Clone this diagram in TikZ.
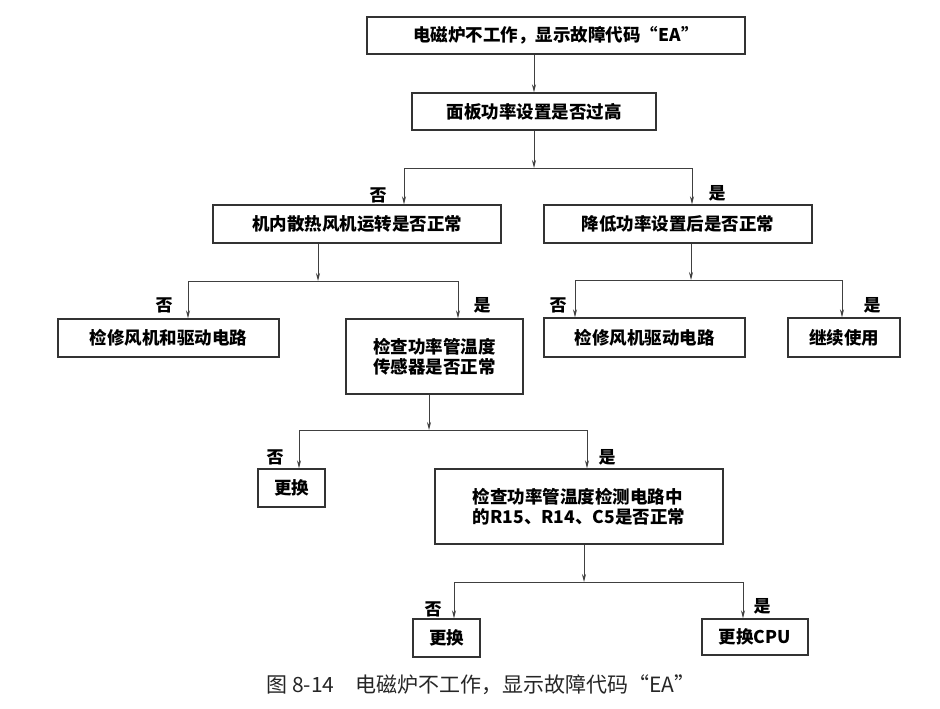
\documentclass[tikz,border=0pt]{standalone}
\usepackage{fontspec}
\setmainfont{Noto Sans CJK SC}
\usetikzlibrary{arrows.meta}
\begin{document}
\begin{tikzpicture}[x=1pt,y=-1pt,
    box/.style={draw=black!80,line width=1.4pt,minimum height=38pt,inner sep=0pt,
      font=\bfseries\fontsize{17.5}{20}\selectfont},
    arr/.style={-{Stealth[length=8pt,width=4pt]},black!75,line width=0.8pt},
    yesno/.style={font=\bfseries\fontsize{17}{20}\selectfont}]
  \useasboundingbox (0,0) rectangle (940,709);
  \node[box,minimum width=378pt,minimum height=37pt] (top) at (556,35.5) {电磁炉不工作，显示故障代码“EA”};
  \node[box,minimum width=244pt,minimum height=37pt] (panel) at (534,111.5) {面板功率设置是否过高};
  \node[box,minimum width=288pt] (fan) at (357,224) {机内散热风机运转是否正常};
  \node[box,minimum width=268pt] (lower) at (678,224) {降低功率设置后是否正常};
  \node[box,minimum width=221pt] (fixfan) at (168.5,338) {检修风机和驱动电路};
  \node[box,minimum width=177pt,minimum height=75pt,align=left] (sensor) at (434.5,356.5) {检查功率管温度\\传感器是否正常};
  \node[box,minimum width=201pt,minimum height=39pt] (fixdrive) at (644.5,337.5) {检修风机驱动电路};
  \node[box,minimum width=112pt,minimum height=39pt] (keep) at (844,337.5) {继续使用};
  \node[box,minimum width=67pt] (swapA) at (291.5,488) {更换};
  \node[box,minimum width=288pt,minimum height=75pt,align=left] (circuit) at (579,506.5) {检查功率管温度检测电路中\\的R15、R14、C5是否正常};
  \node[box,minimum width=67pt] (swapB) at (446.5,638) {更换};
  \node[box,minimum width=106pt,minimum height=36pt] (cpu) at (755,637) {更换CPU};
  % split points
  \coordinate (j1) at (534,168);
  \coordinate (j2) at (318,281);
  \coordinate (j3) at (691,280);
  \coordinate (j4) at (429,430);
  \coordinate (j5) at (584,582);
  \draw[arr] (panel.north |- top.south) -- (panel.north);
  \draw[arr] (panel.south) -- (j1);
  \draw[arr] (j1) -| ([xshift=47pt]fan.north);
  \draw[arr] (j1) -| ([xshift=14pt]lower.north);
  \draw[arr] ([xshift=-39pt]fan.south) -- (j2);
  \draw[arr] (j2) -| ([xshift=19.5pt]fixfan.north);
  \draw[arr] (j2) -| ([xshift=23.5pt]sensor.north);
  \draw[arr] ([xshift=13pt]lower.south) -- (j3);
  \draw[arr] (j3) -| ([xshift=-69.5pt]fixdrive.north);
  \draw[arr] (j3) -| ([xshift=-2pt]keep.north);
  \draw[arr] ([xshift=-5.5pt]sensor.south) -- (j4);
  \draw[arr] (j4) -| ([xshift=7.5pt]swapA.north);
  \draw[arr] (j4) -| ([xshift=8pt]circuit.north);
  \draw[arr] ([xshift=5pt]circuit.south) -- (j5);
  \draw[arr] (j5) -| ([xshift=7.5pt]swapB.north);
  \draw[arr] (j5) -| ([xshift=-12pt]cpu.north);
  \foreach \n/\p/\t in {no1/{378,195}/否,yes1/{717,193}/是,no2/{164,305}/否,yes2/{482,305}/是,
      no3/{558,305}/否,yes3/{872,305}/是,no4/{275,457}/否,yes4/{607,457}/是,
      no5/{433,609}/否,yes5/{762,606}/是}
    \node[yesno] (\n) at (\p) {\t};
  \node[font=\fontsize{21}{24}\selectfont,black!85] (caption) at (481,685) {图 8-14\quad 电磁炉不工作，显示故障代码“EA”};
\end{tikzpicture}
\end{document}
